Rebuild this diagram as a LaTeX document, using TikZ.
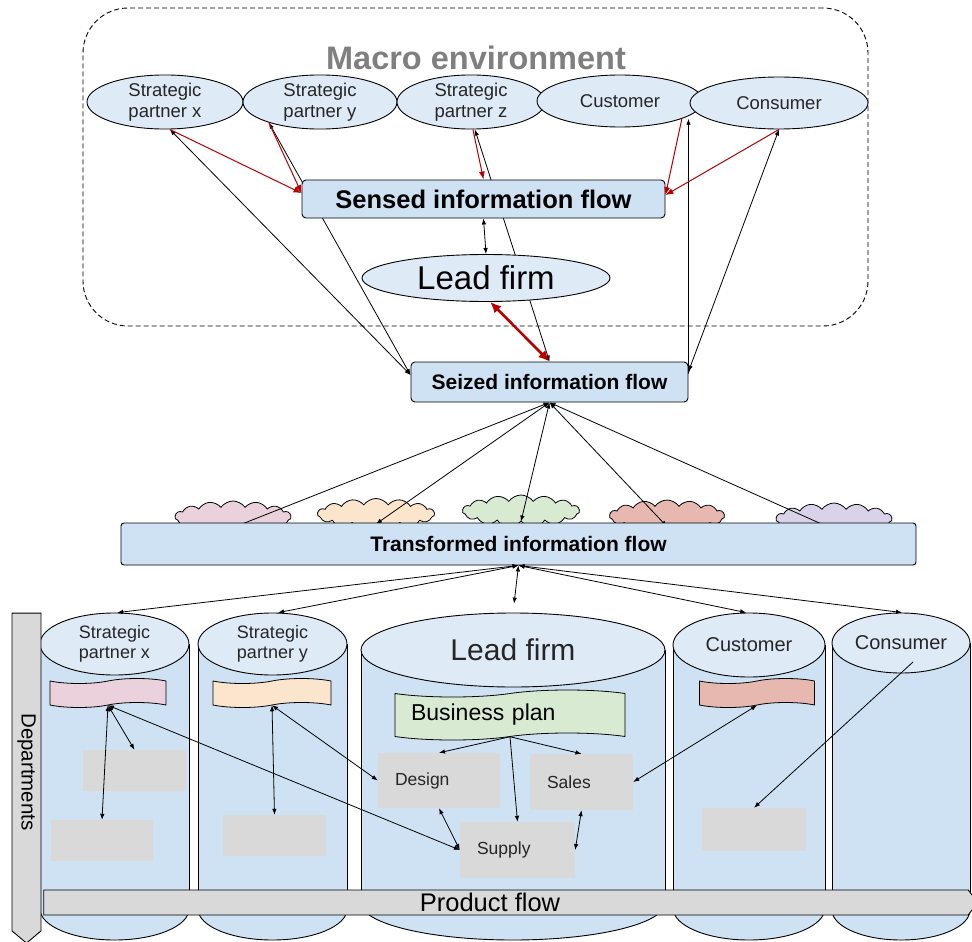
\documentclass[tikz,border=0pt]{standalone}
\usepackage{fontspec}
\setmainfont{Liberation Sans}
\usetikzlibrary{arrows.meta,shapes.geometric,shapes.symbols,calc,backgrounds}

\definecolor{ellfill}{HTML}{DEEBF7}
\definecolor{boxfill}{HTML}{CFE2F3}
\definecolor{cylbody}{HTML}{CFE2F3}
\definecolor{cyltop}{HTML}{DEEBF7}
\definecolor{deptgray}{HTML}{D9D9D9}
\definecolor{flowred}{HTML}{B80000}
\definecolor{titlegray}{HTML}{7F7F7F}
\definecolor{labelgray}{HTML}{262626}
\definecolor{pinkc}{HTML}{EAD1DC}
\definecolor{orangec}{HTML}{FCE5CD}
\definecolor{greenc}{HTML}{D9EAD3}
\definecolor{redc}{HTML}{E6B8AF}
\definecolor{purplec}{HTML}{D9D2E9}

% cylinder: name, x centre, y of top, width, y radius, y of bottom centre, font, text
\newcommand\drum[8]{%
  \fill[cylbody] ({#2-#4/2},#3) rectangle ({#2+#4/2},#6);
  \fill[cylbody] (#2,#6) ellipse [x radius=#4/2, y radius=#5];
  \draw[line width=0.9pt] ({#2-#4/2},#3) -- ({#2-#4/2},#6) ({#2+#4/2},#3) -- ({#2+#4/2},#6);
  \begin{scope}
    \clip ({#2-#4/2-2},#6) rectangle ({#2+#4/2+2},{#6+#5+2});
    \draw[line width=0.9pt] (#2,#6) ellipse [x radius=#4/2, y radius=#5];
  \end{scope}
  \node[ellipse, draw, line width=0.9pt, fill=cyltop, minimum width=#4 pt,
        minimum height=2*#5 pt, inner sep=0pt, align=center, text=labelgray,
        font=#7] (#1) at (#2,#3) {#8};
}

\begin{document}
\begin{tikzpicture}[x=1pt,y=-1pt,
  topell/.style={ellipse, draw, line width=0.9pt, fill=ellfill, inner sep=0pt,
    align=center, text=labelgray, font=\fontsize{18.5}{21}\selectfont},
  flowbox/.style={draw, line width=0.9pt, rounded corners=4pt, fill=boxfill, inner sep=0pt},
  puff/.style={cloud, cloud puffs=15, cloud puff arc=110, cloud ignores aspect, draw,
    line width=0.8pt, inner sep=0pt},
  graybox/.style={fill=deptgray, draw=none, inner sep=0pt, text=labelgray,
    font=\fontsize{17.5}{20}\selectfont},
  wavy/.style={tape, draw, line width=0.8pt, inner sep=0pt, tape bend height=5pt},
  conn/.style={line width=0.8pt, {Latex[length=6pt,width=4.5pt]}-{Latex[length=6pt,width=4.5pt]}},
  oneway/.style={line width=0.8pt, -{Latex[length=6pt,width=4.5pt]}},
  redline/.style={draw=flowred, line width=1pt, -{Latex[length=8pt,width=6pt]}},
  bigred/.style={draw=flowred, line width=2.6pt, {Latex[length=11pt,width=10pt]}-{Latex[length=11pt,width=10pt]}},
  flowarrow/.style={signal, signal from=nowhere, draw, line width=0.9pt, fill=deptgray, inner sep=0pt}
]
\useasboundingbox (0,0) rectangle (972,942);

% ---------- macro environment ----------
\node[draw, dashed, dash pattern=on 5pt off 3pt, line width=0.9pt, rounded corners=45pt,
      minimum width=785pt, minimum height=318pt] (macro) at (475.5,167) {};
\node[text=titlegray, font=\fontsize{32.5}{38}\bfseries\selectfont] (title) at (476,58) {Macro environment};

\node[topell, minimum width=156pt, minimum height=52pt] (spxT) at (165,102) {Strategic\\partner x};
\node[topell, minimum width=154pt, minimum height=52pt] (spyT) at (320,102) {Strategic\\partner y};
\node[topell, minimum width=148pt, minimum height=52pt] (spzT) at (471,102) {Strategic\\partner z};
\node[topell, minimum width=166pt, minimum height=52pt] (custT) at (620,101) {Customer};
\node[topell, minimum width=178pt, minimum height=52pt] (consT) at (779,103) {Consumer};

\node[flowbox, minimum width=363pt, minimum height=38pt, font=\fontsize{25.5}{29}\bfseries\selectfont]
  (sensed) at (483.5,199) {Sensed information flow};
\node[ellipse, draw, line width=0.9pt, fill=ellfill, minimum width=248pt, minimum height=47pt,
      inner sep=0pt, font=\fontsize{33}{37}\selectfont] (leadT) at (486,278) {Lead firm};
\node[flowbox, minimum width=277pt, minimum height=40pt, font=\fontsize{21}{25}\bfseries\selectfont]
  (seized) at (549.5,382) {Seized information flow};

\coordinate (seizedL) at ($(seized.north west)!0.33!(seized.south west)$);
\coordinate (seizedR) at ($(seized.north east)+(0,13)$);
\coordinate (sensedL) at ($(sensed.north west)!0.35!(sensed.south west)$);
\coordinate (sensedR) at ($(sensed.north east)!0.4!(sensed.south east)$);

% long links that pass behind the boxes
\begin{scope}[on background layer]
  \draw[conn] (spxT.-80) -- (seizedL);
  \draw[conn] (spyT.202) -- (seizedL);
  \draw[conn] (spzT.-82) -- (seized.north);
  \draw[conn] (seized.east |- custT.-16) -- (seizedR);
  \draw[conn] (consT.south) -- ($(seized.north east)+(0,10)$);
\end{scope}

% sensing links
\draw[redline] (spxT.-80) -- (sensedL);
\draw[redline] (spyT.202) -- (sensedL);
\draw[redline] (spzT.-86) -- (sensed.north);
\draw[redline] (custT.-16) -- (sensedR);
\draw[redline] (consT.south) -- (sensedR);

\draw[conn] (sensed.south) -- (leadT.north);
\draw[bigred] (leadT.-80) -- (seized.north);

% ---------- transformation ----------
\node[puff, fill=pinkc,   minimum width=116pt, minimum height=32pt] (c1) at (233,517) {};
\node[puff, fill=orangec, minimum width=117pt, minimum height=31pt] (c2) at (376,514) {};
\node[puff, fill=greenc,  minimum width=117pt, minimum height=32pt] (c3) at (521,511) {};
\node[puff, fill=redc,    minimum width=115pt, minimum height=32pt] (c4) at (667,516) {};
\node[puff, fill=purplec, minimum width=116pt, minimum height=32pt] (c5) at (834,519) {};

\draw[oneway] (c1.south) -- (seized.south);
\draw[conn] (c2.south) -- (seized.south);
\draw[conn] (c3.south) -- (seized.south);
\draw[conn] (c4.south) -- (seized.south);
\draw[conn] (c5.south) -- (seized.south);

\node[flowbox, rounded corners=3pt, minimum width=795pt, minimum height=42pt,
      font=\fontsize{21}{25}\bfseries\selectfont] (transformed) at (518.5,544) {Transformed information flow};

% ---------- departments ----------
\drum{cylSPx}{114.5}{644}{149}{31}{909}{\fontsize{18}{20}\selectfont}{Strategic\\partner x}
\drum{cylSPy}{272.5}{644}{149}{31}{909}{\fontsize{18}{20}\selectfont}{Strategic\\partner y}
\drum{cylLead}{513}{650}{304}{37}{903}{\fontsize{30}{34}\selectfont\color{black}}{Lead firm}
\drum{cylCust}{749}{645}{152}{32}{908}{\fontsize{20}{23}\selectfont}{Customer}
\drum{cylCons}{901}{643}{138}{30}{910}{\fontsize{20}{23}\selectfont}{Consumer}

\node[wavy, fill=pinkc,   minimum width=116pt, minimum height=29pt] (tapeX) at (108,693) {};
\node[wavy, fill=orangec, minimum width=118pt, minimum height=29pt] (tapeY) at (272,693) {};
\node[wavy, fill=redc,    minimum width=115pt, minimum height=29pt] (tapeC) at (757,693) {};
\node[wavy, fill=greenc, tape bend height=7pt, minimum width=230pt, minimum height=50pt,
      inner xsep=16pt, text width=198pt, align=left, font=\fontsize{23}{26}\selectfont]
  (bplan) at (510,715) {Business plan};

\node[graybox, minimum width=103pt, minimum height=41pt] (gx1) at (134.5,770.5) {};
\node[graybox, minimum width=102pt, minimum height=41pt] (gx2) at (102,840.5) {};
\node[graybox, minimum width=103pt, minimum height=41pt] (gy1) at (274.5,835.5) {};
\node[graybox, minimum height=55pt, inner xsep=17pt, text width=88pt, align=left] (design) at (439,780.5) {Design};
\node[graybox, minimum height=56pt, inner xsep=17pt, text width=69pt, align=left] (sales) at (581.5,782) {Sales};
\node[graybox, minimum height=56pt, inner xsep=17pt, text width=81pt, align=left] (supply) at (517.5,850) {Supply};
\node[graybox, minimum width=104pt, minimum height=43pt] (gc) at (754,829.5) {};

% departments and product flow bars
\node[flowarrow, signal to=east, signal pointer angle=100, rotate=-90,
      minimum width=330pt, minimum height=29pt, font=\fontsize{20.5}{24}\selectfont]
  (dept) at (26.5,772) {Departments};
\node[flowarrow, signal to=east, signal pointer angle=105,
      minimum width=934pt, minimum height=25pt] (product) at (506,902.5) {};
\node[font=\fontsize{25.5}{29}\selectfont, inner sep=0pt] (productlabel) at (490,902) {Product flow};

% links from the transformed flow to each firm
\draw[conn] (transformed.south) -- (cylSPx.85);
\draw[conn] (transformed.south) -- (cylSPy.80);
\draw[conn, shorten >=9pt] (transformed.south) -- (cylLead.north);
\draw[conn] (transformed.south) -- (cylCust.95);
\draw[conn] (transformed.south) -- (cylCons.88);

% links inside the firms
\draw[conn] (tapeX.south) -- (gx1.north);
\draw[conn] (tapeX.south) -- (gx2.north);
\draw[conn] (tapeX.south) -- (supply.west);
\draw[conn] (tapeY.south) -- (gy1.north);
\draw[conn] (tapeY.south) -- (design.west);
\draw[oneway] (bplan.south) -- (design.north);
\draw[oneway] (bplan.south) -- (sales.north);
\draw[oneway] (bplan.south) -- (supply.north);
\draw[conn] (design.south) -- (supply.west);
\draw[conn] (sales.south) -- (supply.east);
\draw[conn] (tapeC.south) -- (sales.east);
\coordinate (consIn) at (913,662);
\draw[oneway] (consIn) -- (gc.north);
\end{tikzpicture}
\end{document}
